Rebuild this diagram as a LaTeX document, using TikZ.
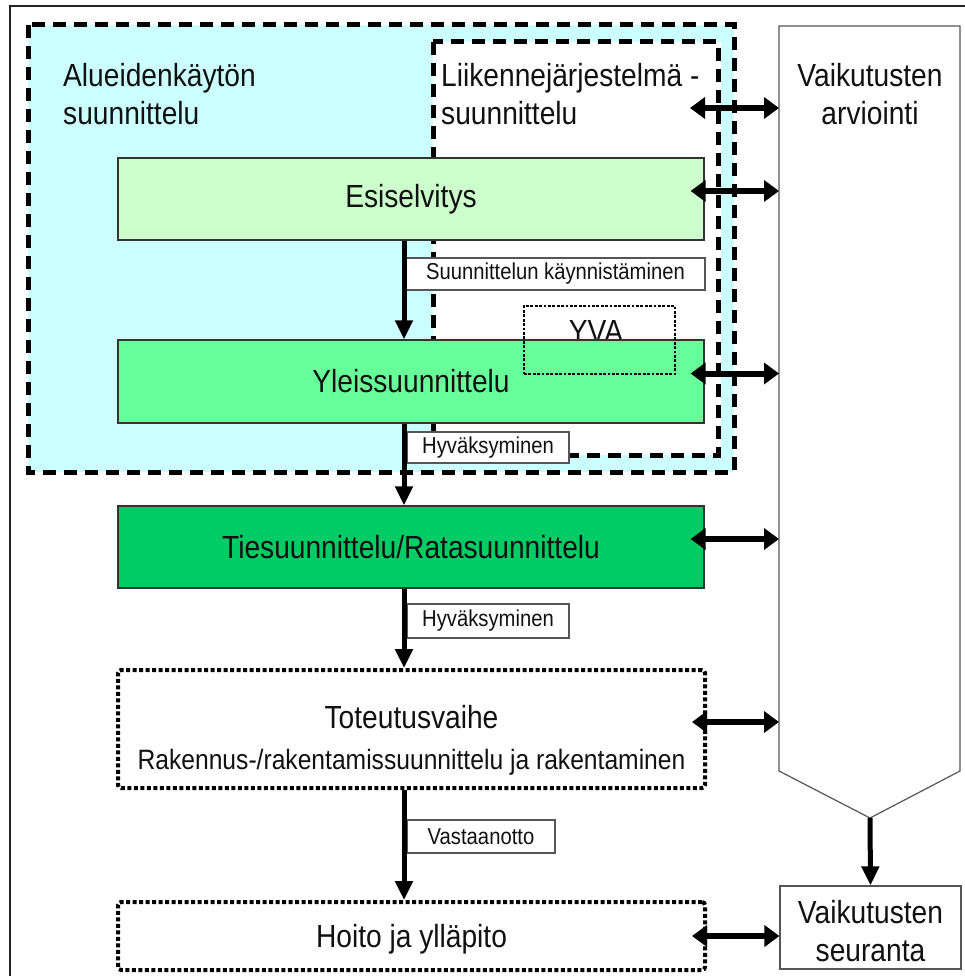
\documentclass[tikz,border=0pt]{standalone}
\usepackage{fontspec}
\setmainfont[FakeStretch=0.88]{Liberation Sans}
\usetikzlibrary{arrows.meta}
\definecolor{cyanbg}{HTML}{CCFFFF}
\definecolor{esifill}{HTML}{CCFFCC}
\definecolor{ylefill}{HTML}{66FF99}
\definecolor{tiefill}{HTML}{00CC66}
\definecolor{boxline}{HTML}{333333}
\definecolor{lblline}{HTML}{555555}
\definecolor{txt}{HTML}{111111}
\definecolor{framegray}{HTML}{222222}
\begin{document}
\begin{tikzpicture}[x=1pt,y=-1pt,
  big/.style={font=\fontsize{32}{38}\selectfont},
  small/.style={font=\fontsize{23}{27}\selectfont},
  phase/.style={draw=boxline, line width=1.2pt, minimum width=586pt, inner sep=0pt, big, text=txt},
  lbl/.style={draw=lblline, fill=white, line width=1.2pt, inner sep=0pt, small, text=txt},
  dotbox/.style={draw=black, line width=4pt, dash pattern=on 4pt off 2.5pt, rounded corners=3pt, inner sep=0pt, big, text=txt},
  zone/.style={draw=black, line width=5pt, dash pattern=on 13pt off 8pt},
  flow/.style={line width=5pt, -{Triangle[width=17pt,length=19pt]}},
  dbl/.style={line width=6pt, {Triangle[width=21pt,length=15pt]}-{Triangle[width=21pt,length=15pt]}},
  plain/.style={inner sep=0pt, big, text=txt}
]
\useasboundingbox (0,0) rectangle (965,976);
\fill[white] (0,0) rectangle (965,976);
% frame
\draw[line width=1.6pt, draw=framegray] (10,990) -- (10,6) -- (980,6);

% zones
\fill[cyanbg] (28,25) rectangle (734,472);
\fill[white] (433,42) rectangle (721,455);
\draw[zone] (28,25) rectangle (734,472);
\draw[zone] (433,42) rectangle (718,455);

\node[plain, anchor=base west, align=left] (alue) at (63,125) {Alueidenkäytön\\suunnittelu};
\node[plain, anchor=base west, align=left] (liik) at (441,125) {Liikennejärjestelmä -\\suunnittelu};

% YVA text (under the Yleissuunnittelu box)
\node[plain, anchor=base] (yvatext) at (596,342) {YVA};

% phases
\node[phase, fill=esifill, minimum height=82pt] (esi) at (411,199) {Esiselvitys};
\node[phase, fill=ylefill, minimum height=83pt] (yle) at (411,381.5) {Yleissuunnittelu};
\node[phase, fill=tiefill, minimum height=82pt] (ties) at (411,547) {Tiesuunnittelu/Ratasuunnittelu};
\node[dotbox, minimum width=587pt, minimum height=118pt, align=center] (tot) at (411.5,729)
  {\rule{0pt}{46pt}Toteutusvaihe\\[3pt]\fontsize{28}{32}\selectfont Rakennus-/rakentamissuunnittelu ja rakentaminen};
\node[dotbox, minimum width=587pt, minimum height=68pt] (hoito) at (411.5,936) {\rule{0pt}{30pt}Hoito ja ylläpito};

% labels
\node[lbl, minimum width=299pt, minimum height=32pt] (l1) at (555.5,274) {Suunnittelun käynnistäminen};
\node[lbl, minimum width=162pt, minimum height=31pt] (l2) at (488,447.5) {Hyväksyminen};
\node[lbl, minimum width=162pt, minimum height=34pt] (l3) at (488,621) {Hyväksyminen};
\node[lbl, minimum width=148pt, minimum height=33pt] (l4) at (481,836.5) {Vastaanotto};

% YVA dotted box
\node[draw=black, line width=2.8pt, dash pattern=on 2.8pt off 1.6pt, minimum width=151pt, minimum height=68pt, inner sep=0pt] (yva) at (599.5,340) {};

% impact assessment pentagon
\draw[draw=lblline, fill=white, line width=1.2pt] (779,26) -- (960,26) -- (960,771) -- (870,818) -- (779,771) -- cycle;
\coordinate (arvW) at (779,26);
\coordinate (arvTip) at (870,818);
\node[plain, anchor=base, align=center] (arvtext) at (870,125) {Vaikutusten\\arviointi};

\node[draw=lblline, fill=white, line width=1.2pt, minimum width=181pt, minimum height=83pt, inner sep=0pt, big, text=txt, align=center] (seur) at (870.5,927.5) {\rule{0pt}{30pt}Vaikutusten\\seuranta};

% vertical flow
\coordinate (ax) at (404,0);
\draw[flow] (esi.south -| ax) -- (yle.north -| ax);
\draw[flow] (yle.south -| ax) -- (ties.north -| ax);
\draw[flow] (ties.south -| ax) -- (tot.north -| ax);
\draw[flow] (tot.south -| ax) -- (hoito.north -| ax);
\draw[flow] (arvTip) -- (seur.north);

% two-way connectors
\coordinate (d0) at (690,108);
\coordinate (d1) at ([xshift=-14pt,yshift=8pt]esi.east);
\coordinate (d2) at ([xshift=-14pt,yshift=8pt]yle.east);
\coordinate (d3) at ([xshift=-14pt,yshift=8pt]ties.east);
\coordinate (d4) at ([xshift=-15pt,yshift=7pt]tot.east);
\coordinate (d5) at ([xshift=-15pt]hoito.east);
\draw[dbl] (d0) -- (d0 -| arvW);
\draw[dbl] (d1) -- (d1 -| arvW);
\draw[dbl] (d2) -- (d2 -| arvW);
\draw[dbl] (d3) -- (d3 -| arvW);
\draw[dbl] (d4) -- (d4 -| arvW);
\draw[dbl] (d5) -- (d5 -| seur.west);
\end{tikzpicture}
\end{document}
